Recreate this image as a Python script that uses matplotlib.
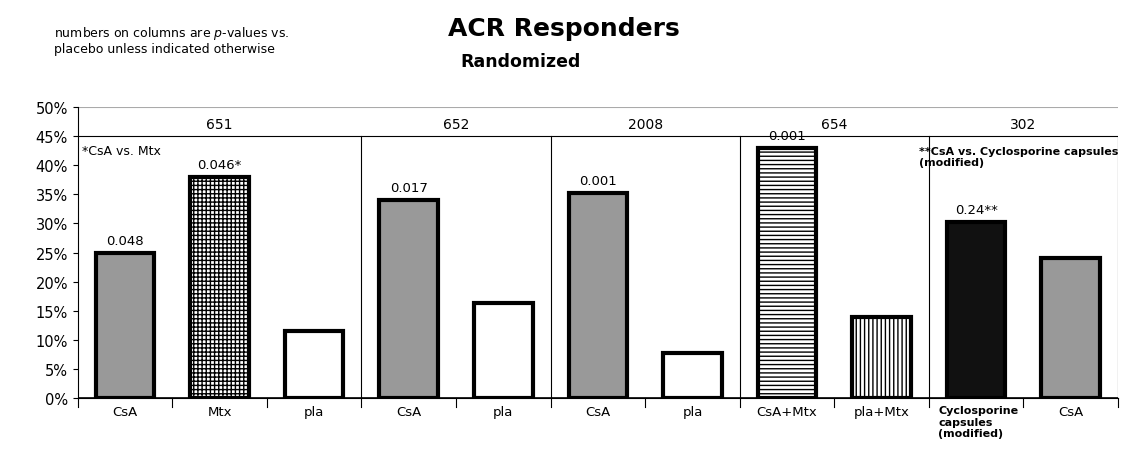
import matplotlib.pyplot as plt

categories = ['CsA', 'Mtx', 'pla', 'CsA', 'pla', 'CsA', 'pla', 'CsA+Mtx', 'pla+Mtx',
              'Cyclosporine\ncapsules\n(modified)', 'CsA']
values = [25, 38, 11.5, 34, 16.3, 35.3, 7.7, 43, 14, 30.3, 24]
pvalues = ['0.048', '0.046*', '', '0.017', '', '0.001', '', '0.001', '', '0.24**', '']
studies = ['651', '652', '2008', '654', '302']
study_spans = [(0, 2), (3, 4), (5, 6), (7, 8), (9, 10)]

colors = ['#999999', 'white', 'white', '#999999', 'white', '#999999', 'white',
          'white', 'white', '#111111', '#999999']
hatches = ['', '++++', '', '', '', '', '', '----', '||||', '', '']

fig = plt.figure(figsize=(11.27, 4.52), dpi=100)
ax = fig.add_axes([0.069, 0.117, 0.923, 0.644])
x = range(len(values))
for i in x:
    ax.bar(i, values[i], width=0.62, color=colors[i], edgecolor='black',
           linewidth=3, hatch=hatches[i])
    if pvalues[i]:
        ax.text(i, values[i] + 1, pvalues[i], ha='center', va='bottom', fontsize=9.5)

ax.set_xlim(-0.5, len(values) - 0.5)
ax.set_ylim(0, 50)
ax.set_yticks(range(0, 51, 5))
ax.set_yticklabels([f'{v}%' for v in range(0, 51, 5)], fontsize=10.5)
ax.set_xticks([])
for s in ['top', 'right']:
    ax.spines[s].set_visible(False)
ax.axhline(45, color='black', lw=0.8)
ax.axhline(50, color='#aaaaaa', lw=0.8)
ax.axhline(0, color='black', lw=1.2)
for b in range(len(values) + 1):
    ax.plot([b - 0.5, b - 0.5], [-1.5, 0], color='black', lw=0.8, clip_on=False)
for (a, b), s in zip(study_spans, studies):
    ax.plot([b + 0.5, b + 0.5], [0, 45], color='black', lw=0.8)
    ax.text((a + b) / 2, 47, s, ha='center', va='center', fontsize=10)
for i, c in enumerate(categories):
    if i == 9:
        ax.text(i - 0.4, -1.2, c, ha='left', va='top', fontsize=8, fontweight='bold')
    else:
        ax.text(i, -1.2, c, ha='center', va='top', fontsize=9.5)

ax.text(-0.45, 42.5, '*CsA vs. Mtx', fontsize=9, va='center')
ax.text(8.4, 41.5, '**CsA vs. Cyclosporine capsules\n(modified)', fontsize=8,
        fontweight='bold', va='center', ha='left')

fig.text(0.5, 0.935, 'ACR Responders', fontsize=18, fontweight='bold',
         ha='center', va='center')
fig.text(0.462, 0.862, 'Randomized', fontsize=12.5, fontweight='bold',
         ha='center', va='center')
fig.text(0.048, 0.875, 'numbers on columns are $p$-values vs.\nplacebo unless indicated otherwise',
         fontsize=9, va='bottom', linespacing=1.1)

fig.savefig('out.png', dpi=100)
